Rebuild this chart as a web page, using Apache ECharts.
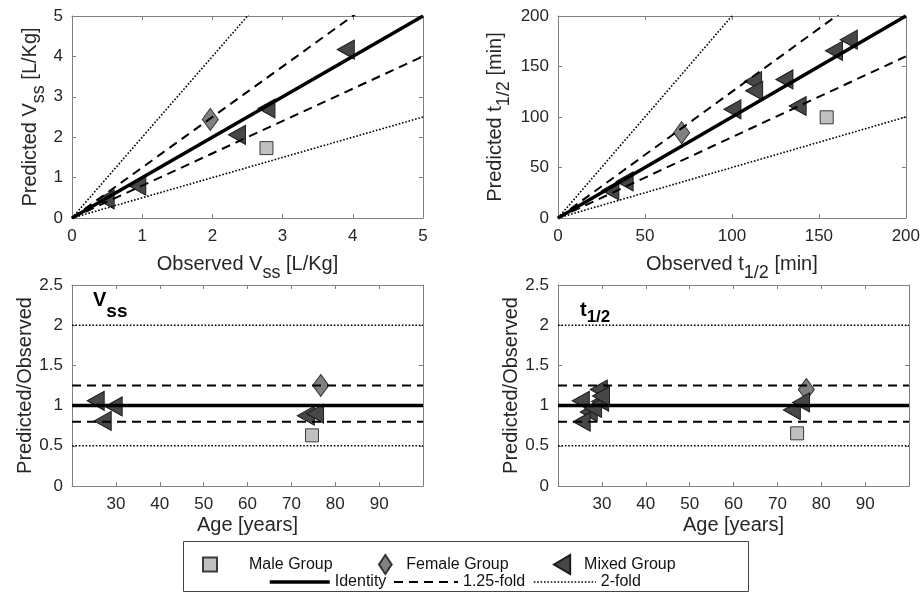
<!DOCTYPE html>
<html>
<head>
<meta charset="utf-8">
<script src="https://cdn.jsdelivr.net/npm/echarts@6/dist/echarts.min.js"></script>
<style>
html, body { margin: 0; padding: 0; background: #fff; }
#chart { width: 923px; height: 594px; }
</style>
</head>
<body>
<div id="chart"></div>
<script>
// observed vs predicted V_ss [L/Kg]
const vssMale = [[2.77, 1.73]];
const vssFemale = [[1.97, 2.44]];
const vssMixed = [[0.48, 0.46], [0.93, 0.80], [2.35, 2.06], [2.77, 2.71], [3.90, 4.17]];

// observed vs predicted t1/2 [min]
const thalfMale = [[154.5, 99.7]];
const thalfFemale = [[71.1, 84.5]];
const thalfMixed = [[30.1, 27.3], [38.3, 36.2], [100.3, 107.6], [112.2, 135.5], [112.8, 126.0],
    [130.2, 137.2], [137.8, 110.9], [158.7, 165.5], [167.2, 176.6]];

// age vs predicted/observed ratio
const vssRatioMale = [[74.7, 0.63]];
const vssRatioFemale = [[76.7, 1.25]];
const vssRatioMixed = [[25.4, 1.06], [29.5, 0.99], [27.0, 0.81], [73.3, 0.875], [75.4, 0.90]];

const thalfRatioMale = [[74.5, 0.655]];
const thalfRatioFemale = [[76.6, 1.20]];
const thalfRatioMixed = [[25.2, 1.06], [29.3, 1.20], [29.6, 1.05], [27.0, 0.92], [25.4, 0.80],
    [28.0, 0.97], [29.8, 1.12], [73.3, 0.945], [75.4, 1.04]];

// fold limits
const identityFold = 1;
const fold125 = [1.25, 0.8];
const fold2 = [2, 0.5];

// axis ranges [min, max, step]
const vssRange = [0, 5, 1];
const thalfRange = [0, 200, 50];
const ageRange = [20, 100, 10];
const ratioRange = [0, 2.5, 0.5];

const FONT = '"Liberation Sans", Arial, sans-serif';
const TXT = '#262626';
const AXC = '#808080';

const SQUARE = 'path://M0,0L10,0L10,10L0,10Z';
const DIAMOND = 'path://M6,0L12,9L6,18L0,9Z';
const TRIANGLE = 'path://M0,10L17,0L17,20Z';

const grids = [
    { left: 72, top: 16, width: 351, height: 202 },
    { left: 558, top: 16, width: 351, height: 202 },
    { left: 72, top: 285, width: 351, height: 201 },
    { left: 558, top: 285, width: 351, height: 201 },
];

const nameRich = {
    m: { fontSize: 20, fontFamily: FONT, color: TXT },
    s: { fontSize: 18, fontFamily: FONT, color: TXT, padding: [18, 0, 0, 0] },
};

function axis (grid, range, isY, name, nameGap, hideEnds) {
    return {
        type: 'value', gridIndex: grid,
        min: range[0], max: range[1], interval: range[2],
        position: isY ? 'left' : 'bottom',
        name: name, nameLocation: 'middle', nameGap: nameGap, nameRotate: isY ? 90 : 0,
        nameTextStyle: { fontSize: 20, fontFamily: FONT, color: TXT, rich: nameRich },
        axisLine: { show: true, onZero: false, lineStyle: { color: AXC, width: 1 } },
        axisTick: { show: true, inside: true, length: 4, lineStyle: { color: AXC } },
        axisLabel: {
            fontSize: 17, fontFamily: FONT, color: TXT, margin: isY ? 9 : 10,
            showMinLabel: !hideEnds, showMaxLabel: !hideEnds,
        },
        splitLine: { show: false },
    };
}

// top / right copies so ticks show on all four sides like the box
function mirror (grid, range, isY) {
    return {
        type: 'value', gridIndex: grid,
        min: range[0], max: range[1], interval: range[2],
        position: isY ? 'right' : 'top',
        axisLine: { show: true, onZero: false, lineStyle: { color: AXC, width: 1 } },
        axisTick: { show: true, inside: true, length: 4, lineStyle: { color: AXC } },
        axisLabel: { show: false },
        splitLine: { show: false },
    };
}

const xAxis = [
    axis(0, vssRange, false, '{m|Observed V}{s|ss}{m| [L/Kg]}', 28), mirror(0, vssRange, false),
    axis(1, thalfRange, false, '{m|Observed t}{s|1/2}{m| [min]}', 28), mirror(1, thalfRange, false),
    axis(2, ageRange, false, 'Age [years]', 29, true), mirror(2, ageRange, false),
    axis(3, ageRange, false, 'Age [years]', 29, true), mirror(3, ageRange, false),
];
const yAxis = [
    axis(0, vssRange, true, '{m|Predicted V}{s|ss}{m| [L/Kg]}', 24), mirror(0, vssRange, true),
    axis(1, thalfRange, true, '{m|Predicted t}{s|1/2}{m| [min]}', 45), mirror(1, thalfRange, true),
    axis(2, ratioRange, true, 'Predicted/Observed', 35), mirror(2, ratioRange, true),
    axis(3, ratioRange, true, 'Predicted/Observed', 36), mirror(3, ratioRange, true),
];

const lineStyles = {
    'Identity': { color: '#000', width: 3.5, type: 'solid' },
    '1.25-fold': { color: '#000', width: 2, type: [9, 6] },
    '2-fold': { color: '#000', width: 1.6, type: [1.6, 1.8] },
};

function refLine (panel, name, data) {
    return {
        type: 'line', name: name, xAxisIndex: panel * 2, yAxisIndex: panel * 2,
        data: data, symbol: 'none', silent: true, clip: true,
        itemStyle: { color: '#000' },
        lineStyle: lineStyles[name],
    };
}

// fold lines for observed-vs-predicted panels
function diagLines (panel, max) {
    const out = [refLine(panel, 'Identity', [[0, 0], [max, max * identityFold]])];
    fold125.forEach(f => out.push(refLine(panel, '1.25-fold', [[0, 0], [max, max * f]])));
    fold2.forEach(f => out.push(refLine(panel, '2-fold', [[0, 0], [max, max * f]])));
    return out;
}

// fold lines for ratio panels
function flatLines (panel) {
    const a = ageRange[0], b = ageRange[1];
    const out = [refLine(panel, 'Identity', [[a, identityFold], [b, identityFold]])];
    fold125.forEach(f => out.push(refLine(panel, '1.25-fold', [[a, f], [b, f]])));
    fold2.forEach(f => out.push(refLine(panel, '2-fold', [[a, f], [b, f]])));
    return out;
}

function groups (panel, male, female, mixed) {
    const base = { type: 'scatter', xAxisIndex: panel * 2, yAxisIndex: panel * 2 };
    return [
        Object.assign({}, base, {
            name: 'Male Group', data: male, symbol: SQUARE, symbolSize: 13,
            itemStyle: { color: '#c0c0c0', borderColor: '#3a3a3a', borderWidth: 1, opacity: 1 },
        }),
        Object.assign({}, base, {
            name: 'Female Group', data: female, symbol: DIAMOND, symbolSize: [16, 22],
            itemStyle: { color: '#808080', borderColor: '#333', borderWidth: 1, opacity: 1 },
        }),
        Object.assign({}, base, {
            name: 'Mixed Group', data: mixed, symbol: TRIANGLE, symbolSize: [17, 19],
            itemStyle: { color: '#474747', borderColor: '#1a1a1a', borderWidth: 1, opacity: 1 },
        }),
    ];
}

const series = [].concat(
    diagLines(0, vssRange[1]), groups(0, vssMale, vssFemale, vssMixed),
    diagLines(1, thalfRange[1]), groups(1, thalfMale, thalfFemale, thalfMixed),
    flatLines(2), groups(2, vssRatioMale, vssRatioFemale, vssRatioMixed),
    flatLines(3), groups(3, thalfRatioMale, thalfRatioFemale, thalfRatioMixed)
);

function legendItem (name, left, top, w, h, isLine) {
    const item = {
        data: [name], left: left, top: top, padding: 0, itemGap: 0,
        itemWidth: w, itemHeight: h, selectedMode: false, z: 5,
        textStyle: { fontSize: 16, fontFamily: FONT, color: '#111' },
    };
    // line legends: hide the default marker dot, keep only the line sample
    if (isLine) {
        item.itemStyle = { opacity: 0 };
        item.lineStyle = { width: lineStyles[name].width };
    }
    return item;
}

const legend = [
    legendItem('Male Group', 202, 556.5, 68, 14),
    legendItem('Female Group', 378, 554, 32, 19),
    legendItem('Mixed Group', 553, 554, 34, 19),
    legendItem('Identity', 268, 574, 60, 14, true),
    legendItem('1.25-fold', 393, 574, 64, 14, true),
    legendItem('2-fold', 533, 574, 62, 14, true),
];

const panelTag = {
    m: { fontSize: 20, fontWeight: 'bold', fontFamily: FONT, color: '#000' },
    s: { fontSize: 19, fontWeight: 'bold', fontFamily: FONT, color: '#000', padding: [22, 0, 0, 0] },
    s2: { fontSize: 17, fontWeight: 'bold', fontFamily: FONT, color: '#000', padding: [14, 0, 0, 0] },
};

const title = [
    { text: '{m|V}{s|ss}', left: 93, top: 280, padding: 0, textStyle: { rich: panelTag } },
    { text: '{m|t}{s2|1/2}', left: 580, top: 295, padding: 0, textStyle: { rich: panelTag } },
];

const myChart = echarts.init(document.getElementById('chart'));
myChart.setOption({
    animation: false,
    backgroundColor: '#fff',
    title: title,
    grid: grids,
    xAxis: xAxis,
    yAxis: yAxis,
    legend: legend,
    graphic: [{
        type: 'rect', z: 0,
        shape: { x: 183.5, y: 541.5, width: 565, height: 50 },
        style: { fill: 'none', stroke: '#444', lineWidth: 1 },
    }],
    series: series,
});
</script>
</body>
</html>
